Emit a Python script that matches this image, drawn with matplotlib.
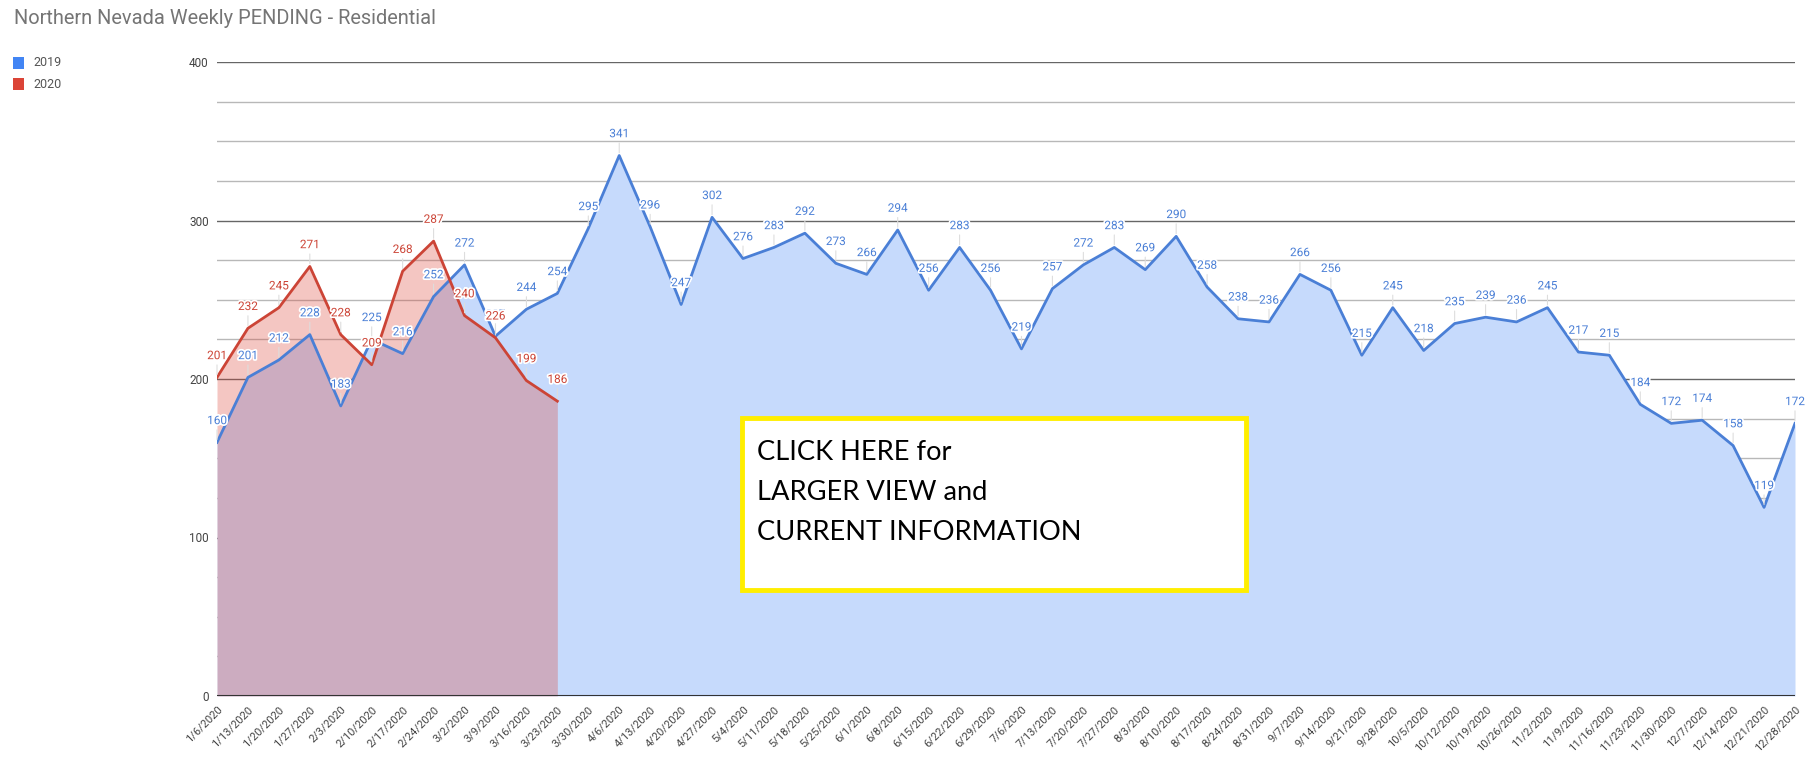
import numpy as np
import matplotlib.pyplot as plt
import matplotlib.patheffects as pe
from matplotlib.patches import Rectangle

plt.rcParams['font.family'] = ['Roboto', 'DejaVu Sans']

weeks = ['1/6/2020', '1/13/2020', '1/20/2020', '1/27/2020', '2/3/2020', '2/10/2020',
         '2/17/2020', '2/24/2020', '3/2/2020', '3/9/2020', '3/16/2020', '3/23/2020',
         '3/30/2020', '4/6/2020', '4/13/2020', '4/20/2020', '4/27/2020', '5/4/2020',
         '5/11/2020', '5/18/2020', '5/25/2020', '6/1/2020', '6/8/2020', '6/15/2020',
         '6/22/2020', '6/29/2020', '7/6/2020', '7/13/2020', '7/20/2020', '7/27/2020',
         '8/3/2020', '8/10/2020', '8/17/2020', '8/24/2020', '8/31/2020', '9/7/2020',
         '9/14/2020', '9/21/2020', '9/28/2020', '10/5/2020', '10/12/2020', '10/19/2020',
         '10/26/2020', '11/2/2020', '11/9/2020', '11/16/2020', '11/23/2020', '11/30/2020',
         '12/7/2020', '12/14/2020', '12/21/2020', '12/28/2020']

pending_2019 = [160, 201, 212, 228, 183, 225, 216, 252, 272, 227, 244, 254,
                295, 341, 296, 247, 302, 276, 283, 292, 273, 266, 294, 256,
                283, 256, 219, 257, 272, 283, 269, 290, 258, 238, 236, 266,
                256, 215, 245, 218, 235, 239, 236, 245, 217, 215, 184, 172,
                174, 158, 119, 172]

pending_2020 = [201, 232, 245, 271, 228, 209, 268, 287, 240, 226, 199, 186]

blue = '#4285F4'
red = '#DB4437'
blue_line = '#4a7fd6'
red_line = '#cc4436'

fig = plt.figure(figsize=(18.09, 7.58), dpi=100)
ax = fig.add_axes([217 / 1809, 1 - 696 / 758, (1795 - 217) / 1809, (696 - 62) / 758])

x19 = np.arange(len(pending_2019))
x20 = np.arange(len(pending_2020))

ax.fill_between(x19, 0, pending_2019, color='#c6dafc', lw=0, zorder=2)
ax.fill_between(x20, 0, pending_2020, color=red, alpha=0.3, lw=0, zorder=3)
ax.plot(x19, pending_2019, color=blue_line, lw=2, zorder=4)
ax.plot(x20, pending_2020, color=red_line, lw=2, zorder=5)

halo = [pe.withStroke(linewidth=2.5, foreground='white')]
for xs, vals, col, z in [(x19, pending_2019, blue_line, 6), (x20, pending_2020, red_line, 7)]:
    for i, v in zip(xs, vals):
        t = ax.annotate(str(v), (i, v), xytext=(0, 11), textcoords='offset points',
                        ha='center', va='bottom', fontsize=8.5, color=col, zorder=z,
                        arrowprops=dict(arrowstyle='-', color='#dddddd', lw=0.8,
                                        shrinkA=0, shrinkB=2))
        t.set_path_effects(halo)

ax.set_xlim(0, len(weeks) - 1)
ax.set_ylim(0, 400)
ax.set_yticks([0, 100, 200, 300, 400])
ax.set_yticks(np.arange(0, 401, 25), minor=True)
ax.grid(True, which='major', axis='y', color='#666666', lw=1, zorder=1)
ax.grid(True, which='minor', axis='y', color='#b8b8b8', lw=1, zorder=1)
ax.axhline(0, color='#333333', lw=1.5, zorder=8)
ax.set_axisbelow(True)

ax.set_xticks(x19)
ax.set_xticklabels(weeks, rotation=45, ha='right', rotation_mode='anchor',
                   fontsize=8, color='#444444')
ax.tick_params(axis='x', length=0, pad=6)
ax.tick_params(axis='y', which='both', length=0, labelsize=8.5, labelcolor='#444444', pad=6)
for s in ax.spines.values():
    s.set_visible(False)

fig.text(14 / 1809, 1 - 18 / 758, 'Northern Nevada Weekly PENDING - Residential',
         fontsize=14.4, color='#757575', va='center', ha='left')

# legend
for k, (lab, col) in enumerate([('2019', blue), ('2020', red)]):
    yc = 63 + 21 * k
    fig.add_artist(Rectangle((13 / 1809, 1 - (yc + 5.5) / 758), 11 / 1809, 11 / 758,
                             transform=fig.transFigure, color=col, lw=0))
    fig.text(33 / 1809, 1 - yc / 758, lab, fontsize=9, color='#555555', va='center')

# click here box
fig.add_artist(Rectangle((742 / 1809, 1 - 590 / 758), 504 / 1809, 172 / 758,
                         transform=fig.transFigure, facecolor='white',
                         edgecolor='#ffee00', lw=3.5, zorder=20))
for k, line in enumerate(['CLICK HERE for', 'LARGER VIEW and', 'CURRENT INFORMATION']):
    fig.text(757 / 1809, 1 - (452 + 40.5 * k) / 758, line, fontsize=19.6, color='black',
             family=['Lato', 'DejaVu Sans'], va='center', ha='left', zorder=21)

fig.savefig('out.png', dpi=100, facecolor='white')
